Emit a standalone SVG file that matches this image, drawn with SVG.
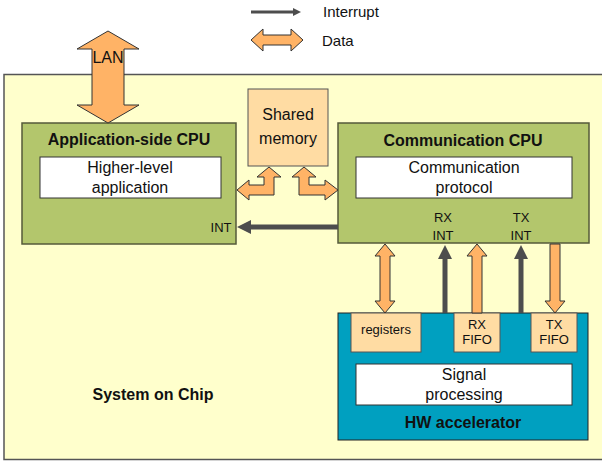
<svg xmlns="http://www.w3.org/2000/svg" width="602" height="461" viewBox="0 0 602 461">
<style>
text{font-family:"Liberation Sans",Arial,sans-serif;fill:#111;text-anchor:middle}
.b{font-weight:bold;font-size:16px}
.n{font-size:16px}
.s{font-size:13px}
.cpu{fill:#B3C66C;stroke:#555a3a;stroke-width:1.5}
.wh{fill:#fff;stroke:#333;stroke-width:1}
.lo{fill:#FFDCA3;stroke:#555;stroke-width:1}
.da{fill:#FFB366;stroke:#333;stroke-width:1}
.int{stroke:#4d4d4d;stroke-width:5;fill:none}
</style>
<defs>
<marker id="ah" markerWidth="8" markerHeight="8" refX="1" refY="4" orient="auto" markerUnits="userSpaceOnUse" viewBox="0 0 8 8">
<path d="M0,0 L8,4 L0,8 Z" fill="#4d4d4d"/>
</marker>
<marker id="ah2" markerWidth="14" markerHeight="14" refX="1" refY="7" orient="auto" markerUnits="userSpaceOnUse" viewBox="0 0 14 14">
<path d="M0,0 L14,7 L0,14 Z" fill="#4d4d4d"/>
</marker>
</defs>
<g id="legend">
<line x1="251" y1="12" x2="294" y2="12" stroke="#4d4d4d" stroke-width="3" marker-end="url(#ah)"/>
<text x="323" y="17" style="font-size:15px;text-anchor:start">Interrupt</text>
<path class="da" d="M251,40 L263,29 L263,35 L291,35 L291,29 L303,40 L291,51 L291,45 L263,45 L263,51 Z"/>
<text x="322" y="46" style="font-size:15px;text-anchor:start">Data</text>
</g>
<g id="soc">
<rect x="4" y="74.5" width="610" height="385" fill="#FFFFCC" stroke="#555" stroke-width="1.5"/>
<text class="b" x="153" y="400">System on Chip</text>
</g>
<g id="app-cpu">
<rect class="cpu" x="22" y="123" width="214" height="121"/>
<text class="b" x="129" y="145">Application-side CPU</text>
<rect class="wh" x="40" y="157" width="181" height="41"/>
<text class="n" x="130" y="173">Higher-level</text>
<text class="n" x="130" y="193">application</text>
<text class="s" x="221" y="232">INT</text>
</g>
<g id="shared-memory">
<rect class="lo" x="248" y="89" width="80" height="77"/>
<text class="n" x="288" y="120">Shared</text>
<text class="n" x="288" y="144">memory</text>
</g>
<g id="comm-cpu">
<rect class="cpu" x="338" y="123" width="251" height="120"/>
<text class="b" x="463" y="146">Communication CPU</text>
<rect class="wh" x="356" y="157" width="216" height="41"/>
<text class="n" x="464" y="173">Communication</text>
<text class="n" x="464" y="193">protocol</text>
<text class="s" x="443" y="222">RX</text>
<text class="s" x="443" y="240">INT</text>
<text class="s" x="521" y="222">TX</text>
<text class="s" x="521" y="240">INT</text>
</g>
<g id="hw-accelerator">
<rect x="338" y="313" width="250" height="127" fill="#00A0C0" stroke="#222" stroke-width="1"/>
<rect class="lo" x="351" y="313" width="70" height="39"/>
<text x="386" y="334" style="font-size:13px">registers</text>
<rect class="lo" x="454" y="313" width="46" height="39"/>
<text class="s" x="477" y="329">RX</text>
<text class="s" x="477" y="344">FIFO</text>
<rect class="lo" x="531" y="313" width="46" height="39"/>
<text class="s" x="554" y="329">TX</text>
<text class="s" x="554" y="344">FIFO</text>
<rect class="wh" x="356" y="364" width="216" height="41"/>
<text class="n" x="464" y="380">Signal</text>
<text class="n" x="464" y="400">processing</text>
<text class="b" x="463" y="428">HW accelerator</text>
</g>
<g id="connectors">
<path class="da" d="M108,31 L139,49 L124,49 L124,105 L139,105 L108,123 L77,105 L92,105 L92,49 L77,49 Z"/>
<text x="108" y="63" style="font-size:16px">LAN</text>
<path class="da" d="M269,167 L281,177 L274,177 L274,195 L249,195 L249,200 L237,190 L249,180 L249,185 L264,185 L264,177 L257,177 Z"/>
<path class="da" d="M304,167 L316,177 L309,177 L309,185 L325,185 L325,180 L338,190 L325,200 L325,195 L299,195 L299,177 L292,177 Z"/>
<line class="int" x1="338" y1="227" x2="250" y2="227" marker-end="url(#ah2)"/>
<path class="da" d="M385,244 L395,256 L390,256 L390,301 L395,301 L385,313 L375,301 L380,301 L380,256 L375,256 Z"/>
<line class="int" x1="445" y1="313" x2="445" y2="258" marker-end="url(#ah2)"/>
<path class="da" d="M477,244 L487,256 L482,256 L482,313 L472,313 L472,256 L467,256 Z"/>
<line class="int" x1="521" y1="313" x2="521" y2="258" marker-end="url(#ah2)"/>
<path class="da" d="M555,313 L545,301 L550,301 L550,244 L560,244 L560,301 L565,301 Z"/>
</g>
</svg>
